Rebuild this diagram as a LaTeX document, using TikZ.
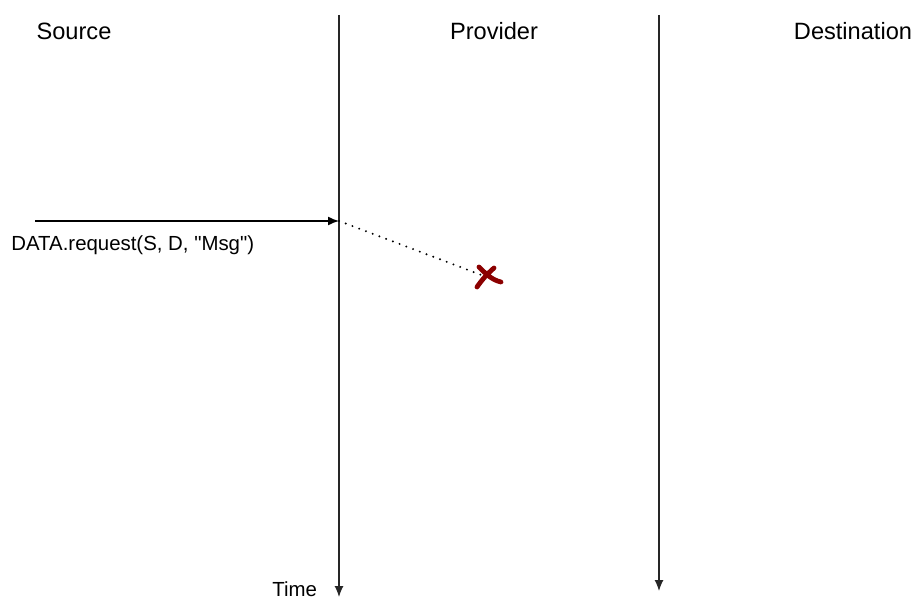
\documentclass[tikz,border=0pt]{standalone}
\usepackage{fontspec}
\setmainfont{Liberation Sans}
\usetikzlibrary{arrows.meta}
\definecolor{lostred}{HTML}{8B0000}

\begin{document}
\begin{tikzpicture}[x=0.5pt,y=-0.5pt,
    head/.style={font=\fontsize{11.8}{14}\selectfont},
    small/.style={font=\fontsize{10.2}{12}\selectfont},
    timeline/.style={line width=0.6pt,black!85,-{Latex[length=5.5pt,width=4.5pt]}},
    msg/.style={line width=0.7pt,-{Latex[length=5.5pt,width=4.5pt]}}]
    \useasboundingbox (0,0) rectangle (921,599);
    % headings
    \node[head,anchor=base] (src) at (74,40) {Source};
    \node[head,anchor=base] (prov) at (494,40) {Provider};
    \node[head,anchor=base] (dst) at (853,40) {Destination};
    % time lines
    \coordinate (t1) at (339,15);
    \coordinate (b1) at (339,597);
    \coordinate (t2) at (659,15);
    \coordinate (b2) at (659,591);
    \draw[timeline] (t1) -- (b1);
    \draw[timeline] (t2) -- (b2);
    \node[small,anchor=base west,inner sep=0pt] (time) at (272,596) {Time};
    % request
    \coordinate (in) at (35,221);
    \coordinate (hit) at (339,221);
    \coordinate (lost) at (484,276);
    \draw[msg] (in) -- (hit);
    \node[small,anchor=base west,inner sep=0pt] (req) at (11,250) {DATA.request(S, D, \textquotedbl Msg\textquotedbl)};
    \draw[line width=1.1pt,line cap=round,dash pattern=on 0pt off 3.6pt] (hit) -- (lost);
    % lost message
    \draw[lostred,line width=2.4pt,line cap=round]
        (479,267) .. controls (486,274) and (492,280) .. (501,282)
        (494,268) .. controls (487,274) and (481,281) .. (477,287);
\end{tikzpicture}
\end{document}
